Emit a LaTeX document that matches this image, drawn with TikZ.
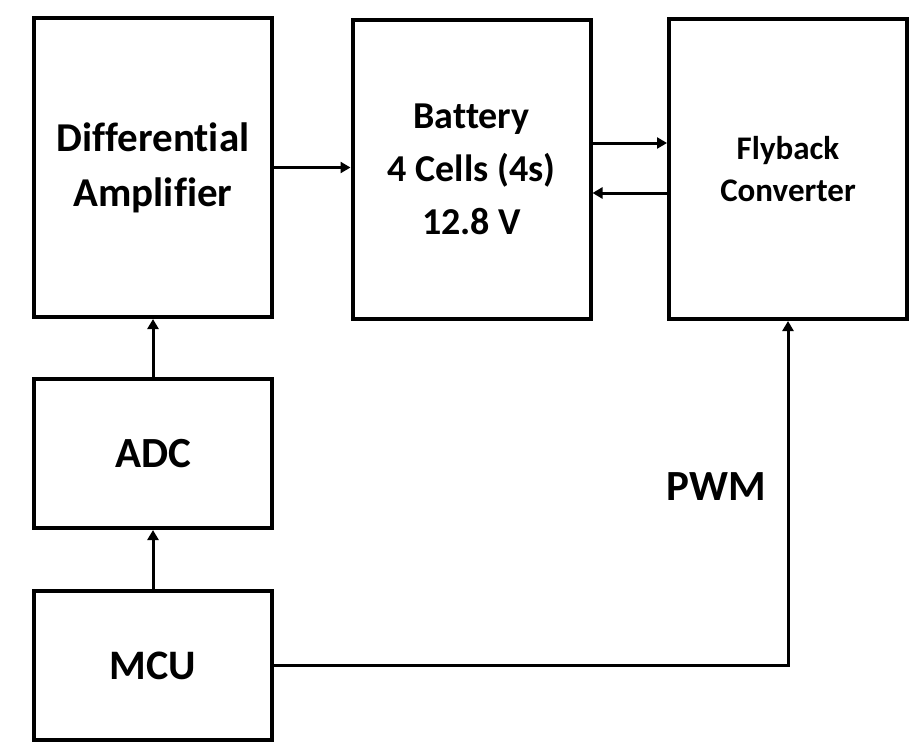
\documentclass[tikz,border=0pt]{standalone}
\usepackage{fontspec}
\setmainfont{Carlito}[Ligatures=NoCommon]
\usetikzlibrary{arrows.meta}

\newcommand{\bsize}[2]{\fontsize{#1bp}{#2bp}\selectfont\bfseries}

\tikzset{
  blk/.style={draw, line width=4bp, inner sep=0pt, minimum width=238bp, align=center},
  link/.style={line width=3bp, -{Triangle[length=10bp,width=11bp]}}
}

\begin{document}
\begin{tikzpicture}[x=1bp, y=-1bp]
\useasboundingbox (0,0) rectangle (914,747);
\node[blk, minimum height=299bp, font=\bsize{41}{55}] (diff) at (153,167.5) {Differential\\Amplifier};
\node[blk, minimum height=299bp, font=\bsize{38}{53}] (batt) at (471.5,169.5) {Battery\\4 Cells (4s)\\12.8 V};
\node[blk, minimum height=300bp, font=\bsize{33}{42}] (fly) at (788,169) {Flyback\\Converter};
\node[blk, minimum height=149bp, font=\bsize{43}{50}] (adc) at (153,453.5) {ADC};
\node[blk, minimum height=149bp, font=\bsize{42}{50}] (mcu) at (153,665.5) {MCU};
\node[anchor=east, inner sep=0pt, font=\bsize{43}{50}] (pwm) at (766,487) {PWM};
% signal path
\draw[link] (diff.east) -- (batt.west |- diff.east);
\draw[link] (batt.east |- 0,143) -- (fly.west |- 0,143);
\draw[link] (fly.west |- 0,193) -- (batt.east |- 0,193);
\foreach \a/\b in {adc/diff, mcu/adc}
{
  \draw[link] (\a.north) -- (\b.south);
}
\draw[link] (mcu.east) -| (fly.south);
\end{tikzpicture}
\end{document}
